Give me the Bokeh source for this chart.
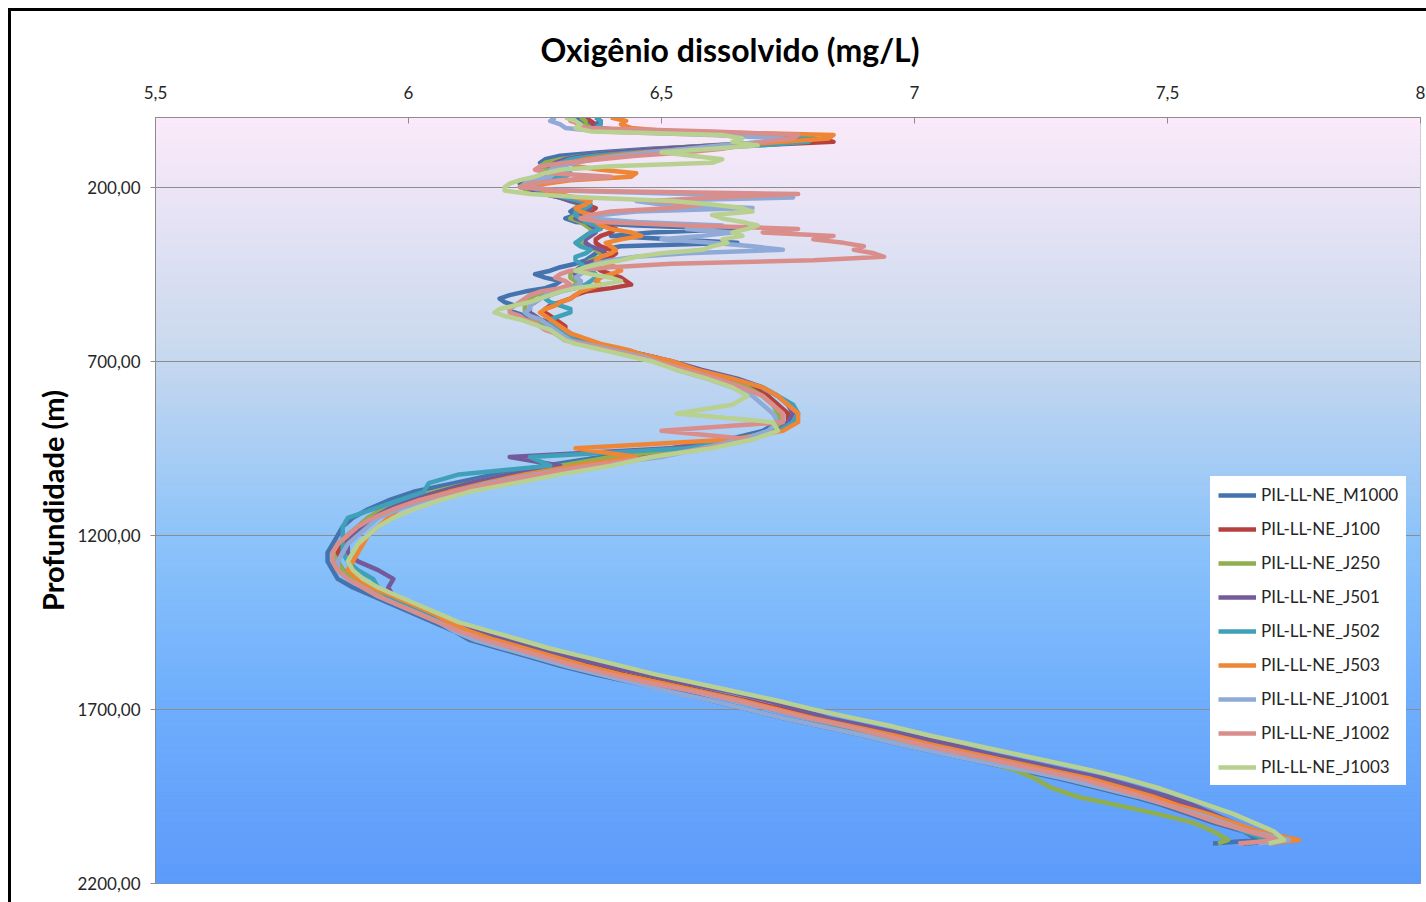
from bokeh.plotting import figure
from bokeh.models import Range1d, FixedTicker, Legend, LegendItem, InlineStyleSheet
from bokeh.embed import file_html
from bokeh.resources import INLINE

# Depth sampling grid (m): 10 m steps down to 700 m, 25 m below, last sample at 2085 m
depth = list(range(0, 701, 10)) + list(range(725, 2076, 25)) + [2085]

# Dissolved oxygen (mg/L) per station, one value per depth sample
m1000 = [
    6.33, 6.34, 6.36, 6.35, 6.45, 6.72, 6.79, 6.76, 6.62, 6.48,
    6.38, 6.30, 6.27, 6.26, 6.27, 6.28, 6.29, 6.27, 6.24, 6.22,
    6.23, 6.25, 6.27, 6.30, 6.33, 6.34, 6.33, 6.32, 6.33, 6.31,
    6.33, 6.45, 6.65, 6.48, 6.40, 6.52, 6.65, 6.42, 6.38, 6.37,
    6.36, 6.35, 6.33, 6.30, 6.28, 6.25, 6.27, 6.30, 6.29, 6.27,
    6.23, 6.20, 6.18, 6.19, 6.21, 6.20, 6.21, 6.23, 6.24, 6.26,
    6.27, 6.28, 6.29, 6.30, 6.31, 6.34, 6.38, 6.41, 6.44, 6.47,
    6.49,
    6.55, 6.61, 6.68, 6.71, 6.73, 6.74, 6.73, 6.70, 6.63, 6.52,
    6.38, 6.27, 6.17, 6.09, 6.01, 5.96, 5.92, 5.89, 5.87, 5.86,
    5.85, 5.84, 5.84, 5.85, 5.86, 5.89, 5.93, 5.97, 6.01, 6.05,
    6.09, 6.12, 6.18, 6.24, 6.30, 6.37, 6.45, 6.53, 6.60, 6.67,
    6.74, 6.82, 6.90, 6.97, 7.05, 7.13, 7.21, 7.29, 7.36, 7.43,
    7.49, 7.54, 7.59, 7.65, 7.68, 7.59,
]
j100 = [
    6.35, 6.36, 6.37, 6.36, 6.42, 6.70, 6.80, 6.84, 6.68, 6.55,
    6.44, 6.37, 6.32, 6.30, 6.29, 6.28, 6.31, 6.31, 6.27, 6.24,
    6.23, 6.25, 6.28, 6.31, 6.33, 6.35, 6.37, 6.36, 6.35, 6.34,
    6.36, 6.38, 6.41, 6.40, 6.38, 6.37, 6.37, 6.38, 6.40, 6.41,
    6.40, 6.38, 6.37, 6.37, 6.38, 6.40, 6.42, 6.43, 6.44, 6.40,
    6.35, 6.33, 6.32, 6.30, 6.28, 6.27, 6.27, 6.28, 6.29, 6.30,
    6.31, 6.31, 6.32, 6.33, 6.34, 6.37, 6.40, 6.43, 6.46, 6.49,
    6.51,
    6.57, 6.63, 6.68, 6.71, 6.73, 6.75, 6.75, 6.73, 6.67, 6.57,
    6.43, 6.31, 6.21, 6.13, 6.06, 6.00, 5.95, 5.92, 5.90, 5.88,
    5.87, 5.86, 5.86, 5.87, 5.90, 5.93, 5.96, 6.00, 6.04, 6.08,
    6.13, 6.18, 6.24, 6.30, 6.36, 6.43, 6.51, 6.59, 6.67, 6.74,
    6.81, 6.89, 6.97, 7.04, 7.12, 7.20, 7.28, 7.36, 7.42, 7.48,
    7.53, 7.58, 7.62, 7.66, 7.71, 7.65,
]
j250 = [
    6.34, 6.35, 6.35, 6.36, 6.43, 6.68, 6.76, 6.72, 6.60, 6.50,
    6.41, 6.35, 6.30, 6.27, 6.26, 6.27, 6.30, 6.29, 6.25, 6.23,
    6.22, 6.24, 6.27, 6.30, 6.32, 6.34, 6.36, 6.35, 6.33, 6.32,
    6.34, 6.35, 6.36, 6.36, 6.35, 6.34, 6.34, 6.35, 6.37, 6.38,
    6.38, 6.36, 6.35, 6.34, 6.33, 6.32, 6.32, 6.33, 6.33, 6.31,
    6.27, 6.25, 6.24, 6.23, 6.23, 6.23, 6.23, 6.24, 6.25, 6.27,
    6.28, 6.29, 6.30, 6.31, 6.32, 6.35, 6.38, 6.41, 6.44, 6.47,
    6.50,
    6.56, 6.62, 6.67, 6.70, 6.72, 6.73, 6.74, 6.72, 6.65, 6.55,
    6.40, 6.30, 6.20, 6.12, 6.05, 5.99, 5.95, 5.92, 5.90, 5.88,
    5.86, 5.85, 5.86, 5.87, 5.89, 5.93, 5.96, 6.00, 6.04, 6.08,
    6.12, 6.17, 6.23, 6.29, 6.35, 6.42, 6.50, 6.58, 6.65, 6.72,
    6.79, 6.86, 6.93, 6.99, 7.06, 7.14, 7.20, 7.24, 7.27, 7.32,
    7.40, 7.48, 7.55, 7.59, 7.62, 7.60,
]
j501 = [
    6.37, 6.38, 6.37, 6.37, 6.46, 6.74, 6.78, 6.73, 6.61, 6.50,
    6.41, 6.35, 6.31, 6.29, 6.28, 6.28, 6.31, 6.30, 6.26, 6.24,
    6.23, 6.25, 6.27, 6.30, 6.32, 6.35, 6.36, 6.35, 6.34, 6.33,
    6.35, 6.36, 6.37, 6.37, 6.36, 6.35, 6.35, 6.36, 6.38, 6.39,
    6.39, 6.37, 6.35, 6.34, 6.33, 6.33, 6.33, 6.34, 6.34, 6.32,
    6.29, 6.27, 6.26, 6.25, 6.24, 6.24, 6.24, 6.25, 6.26, 6.28,
    6.29, 6.30, 6.31, 6.32, 6.33, 6.37, 6.40, 6.43, 6.46, 6.49,
    6.52,
    6.58, 6.65, 6.70, 6.73, 6.75, 6.76, 6.75, 6.73, 6.66, 6.52,
    6.20, 6.30, 6.20, 6.12, 6.06, 6.00, 5.96, 5.93, 5.91, 5.89,
    5.88, 5.88, 5.90, 5.94, 5.97, 5.96, 5.97, 6.01, 6.05, 6.09,
    6.14, 6.20, 6.26, 6.32, 6.39, 6.47, 6.55, 6.64, 6.71, 6.77,
    6.83, 6.91, 6.99, 7.07, 7.14, 7.22, 7.30, 7.38, 7.44, 7.50,
    7.55, 7.59, 7.63, 7.67, 7.71, 7.66,
]
j502 = [
    6.37, 6.38, 6.38, 6.37, 6.44, 6.70, 6.80, 6.79, 6.70, 6.57,
    6.45, 6.37, 6.32, 6.30, 6.29, 6.30, 6.32, 6.31, 6.27, 6.24,
    6.24, 6.26, 6.28, 6.31, 6.34, 6.36, 6.35, 6.33, 6.33, 6.34,
    6.35, 6.37, 6.38, 6.36, 6.35, 6.34, 6.33, 6.34, 6.36, 6.35,
    6.33, 6.33, 6.34, 6.35, 6.36, 6.37, 6.37, 6.36, 6.35, 6.33,
    6.30, 6.28, 6.27, 6.28, 6.30, 6.32, 6.32, 6.30, 6.28, 6.28,
    6.29, 6.30, 6.31, 6.32, 6.33, 6.36, 6.39, 6.42, 6.45, 6.48,
    6.51,
    6.57, 6.64, 6.70, 6.73, 6.76, 6.77, 6.76, 6.73, 6.66, 6.55,
    6.24, 6.28, 6.10, 6.04, 6.03, 5.98, 5.93, 5.88, 5.87, 5.87,
    5.87, 5.87, 5.88, 5.90, 5.93, 5.94, 5.96, 5.99, 6.03, 6.07,
    6.11, 6.16, 6.22, 6.28, 6.34, 6.41, 6.49, 6.58, 6.66, 6.72,
    6.79, 6.86, 6.95, 7.02, 7.10, 7.18, 7.26, 7.34, 7.40, 7.46,
    7.51, 7.56, 7.61, 7.65, 7.70, 7.66,
]
j503 = [
    6.40, 6.43, 6.42, 6.44, 6.52, 6.84, 6.83, 6.74, 6.64, 6.56,
    6.47, 6.40, 6.35, 6.32, 6.33, 6.38, 6.45, 6.44, 6.32, 6.27,
    6.25, 6.27, 6.30, 6.33, 6.36, 6.35, 6.33, 6.34, 6.36, 6.38,
    6.37, 6.38, 6.40, 6.44, 6.46, 6.42, 6.39, 6.40, 6.41, 6.40,
    6.38, 6.37, 6.39, 6.41, 6.42, 6.40, 6.38, 6.37, 6.38, 6.36,
    6.34, 6.33, 6.32, 6.30, 6.29, 6.27, 6.26, 6.27, 6.28, 6.29,
    6.30, 6.31, 6.32, 6.34, 6.36, 6.38, 6.41, 6.44, 6.46, 6.49,
    6.52,
    6.57, 6.64, 6.70, 6.73, 6.75, 6.77, 6.77, 6.74, 6.64, 6.33,
    6.45, 6.33, 6.23, 6.15, 6.08, 6.02, 5.98, 5.96, 5.94, 5.92,
    5.91, 5.90, 5.89, 5.88, 5.90, 5.93, 5.97, 6.01, 6.05, 6.08,
    6.12, 6.17, 6.23, 6.29, 6.35, 6.42, 6.50, 6.58, 6.66, 6.73,
    6.80, 6.88, 6.96, 7.03, 7.11, 7.19, 7.27, 7.35, 7.41, 7.47,
    7.52, 7.58, 7.63, 7.68, 7.76, 7.70,
]
j1001 = [
    6.29, 6.28, 6.30, 6.31, 6.38, 6.60, 6.74, 6.70, 6.62, 6.55,
    6.48, 6.42, 6.37, 6.33, 6.30, 6.28, 6.29, 6.28, 6.25, 6.23,
    6.24, 6.30, 6.55, 6.76, 6.45, 6.50, 6.68, 6.45, 6.38, 6.36,
    6.45, 6.62, 6.55, 6.64, 6.58, 6.50, 6.60, 6.68, 6.74, 6.55,
    6.45, 6.40, 6.37, 6.35, 6.35, 6.34, 6.33, 6.34, 6.34, 6.32,
    6.29, 6.27, 6.26, 6.25, 6.24, 6.24, 6.23, 6.24, 6.26, 6.27,
    6.28, 6.29, 6.30, 6.31, 6.32, 6.35, 6.38, 6.41, 6.44, 6.47,
    6.49,
    6.53, 6.59, 6.64, 6.68, 6.70, 6.72, 6.73, 6.71, 6.66, 6.58,
    6.50, 6.36, 6.25, 6.16, 6.09, 6.03, 5.98, 5.94, 5.92, 5.90,
    5.88, 5.87, 5.86, 5.86, 5.88, 5.91, 5.94, 5.98, 6.02, 6.06,
    6.09, 6.13, 6.19, 6.25, 6.31, 6.38, 6.45, 6.52, 6.60, 6.67,
    6.74, 6.82, 6.90, 6.97, 7.05, 7.13, 7.22, 7.30, 7.37, 7.44,
    7.50, 7.56, 7.61, 7.66, 7.74, 7.68,
]
j1002 = [
    6.33, 6.32, 6.34, 6.35, 6.60, 6.77, 6.76, 6.70, 6.66, 6.62,
    6.55, 6.45, 6.38, 6.31, 6.26, 6.25, 6.28, 6.40, 6.30, 6.24,
    6.22, 6.30, 6.77, 6.60, 6.48, 6.58, 6.52, 6.40, 6.36, 6.34,
    6.38, 6.55, 6.77, 6.70, 6.84, 6.80, 6.86, 6.90, 6.88, 6.92,
    6.94, 6.80, 6.52, 6.40, 6.32, 6.30, 6.29, 6.31, 6.32, 6.30,
    6.26, 6.24, 6.23, 6.22, 6.21, 6.20, 6.20, 6.22, 6.23, 6.25,
    6.26, 6.27, 6.29, 6.30, 6.31, 6.34, 6.37, 6.40, 6.43, 6.46,
    6.49,
    6.55, 6.61, 6.66, 6.70, 6.72, 6.74, 6.74, 6.50, 6.68, 6.59,
    6.48, 6.36, 6.26, 6.17, 6.09, 6.02, 5.97, 5.93, 5.90, 5.88,
    5.86, 5.85, 5.85, 5.86, 5.88, 5.91, 5.94, 5.98, 6.02, 6.06,
    6.10, 6.15, 6.21, 6.27, 6.33, 6.40, 6.48, 6.57, 6.65, 6.72,
    6.79, 6.87, 6.94, 7.01, 7.09, 7.17, 7.25, 7.33, 7.39, 7.45,
    7.50, 7.55, 7.60, 7.66, 7.72, 7.64,
]
j1003 = [
    6.31, 6.33, 6.34, 6.33, 6.36, 6.62, 6.66, 6.64, 6.69, 6.60,
    6.50, 6.56, 6.62, 6.60, 6.40, 6.30, 6.27, 6.25, 6.22, 6.20,
    6.19, 6.19, 6.24, 6.35, 6.52, 6.60, 6.66, 6.68, 6.60, 6.62,
    6.66, 6.69, 6.67, 6.64, 6.66, 6.62, 6.63, 6.60, 6.58, 6.50,
    6.45, 6.42, 6.38, 6.35, 6.33, 6.36, 6.40, 6.42, 6.38, 6.33,
    6.30, 6.28, 6.26, 6.24, 6.21, 6.18, 6.17, 6.19, 6.22, 6.24,
    6.26, 6.28, 6.29, 6.30, 6.31, 6.33, 6.36, 6.39, 6.42, 6.45,
    6.48,
    6.53, 6.59, 6.64, 6.67, 6.64, 6.53, 6.72, 6.73, 6.68, 6.60,
    6.48, 6.40, 6.30, 6.21, 6.12, 6.06, 6.01, 5.97, 5.94, 5.92,
    5.90, 5.89, 5.88, 5.89, 5.91, 5.94, 5.98, 6.02, 6.06, 6.10,
    6.16, 6.22, 6.28, 6.35, 6.42, 6.49, 6.57, 6.65, 6.73, 6.80,
    6.88, 6.96, 7.03, 7.11, 7.19, 7.27, 7.35, 7.42, 7.48, 7.53,
    7.58, 7.63, 7.67, 7.71, 7.73, 7.70,
]

station_names = [
    "PIL-LL-NE_M1000", "PIL-LL-NE_J100", "PIL-LL-NE_J250",
    "PIL-LL-NE_J501", "PIL-LL-NE_J502", "PIL-LL-NE_J503",
    "PIL-LL-NE_J1001", "PIL-LL-NE_J1002", "PIL-LL-NE_J1003",
]
station_values = [m1000, j100, j250, j501, j502, j503, j1001, j1002, j1003]
station_colors = [
    "#4473AE", "#B5403D", "#8FAF4E", "#735A9B", "#3FA0B9",
    "#EE8636", "#8FAAD6", "#D98E8C", "#B8D090",
]

x_ticks = [5.5, 6, 6.5, 7, 7.5, 8]
x_tick_labels = ["5,5", "6", "6,5", "7", "7,5", "8"]
y_ticks = [200, 700, 1200, 1700, 2200]
y_tick_labels = ["200,00", "700,00", "1200,00", "1700,00", "2200,00"]

FONT = "Lato"
GRID = "#8c8c8c"

p = figure(
    width=1426, height=902, output_backend="svg", toolbar_location=None,
    x_range=Range1d(5.5, 8.0), y_range=Range1d(2200, 0),
    x_axis_location="above",
    min_border_left=155, min_border_right=6, min_border_top=117, min_border_bottom=19,
    background_fill_color="white", border_fill_color="white",
)
p.outline_line_color = GRID

# chart title, left-aligned over the frame
p.title.text = "Oxigênio dissolvido (mg/L)"
p.title.align = "left"
p.title.offset = 385
p.title.text_font = FONT
p.title.text_font_style = "bold"
p.title.text_font_size = "32px"
p.title.text_color = "black"
p.title.standoff = 27

# black chart-area border (top and left edges)
p.stylesheets = [InlineStyleSheet(css="""
:host::after {
  content: "";
  position: absolute;
  left: 8px;
  top: 8px;
  width: 1418px;
  height: 894px;
  border-left: 3px solid #000;
  border-top: 3px solid #000;
  box-sizing: border-box;
  pointer-events: none;
}
""")]

# vertical background gradient (pink at the surface to blue at depth)
stops = [
    (0.00, (251, 234, 250)),
    (0.30, (202, 217, 238)),
    (0.56, (138, 194, 250)),
    (0.75, (112, 175, 252)),
    (1.00, (92, 155, 250)),
]


def shade(f):
    for (f0, c0), (f1, c1) in zip(stops[:-1], stops[1:]):
        if f0 <= f <= f1:
            t = (f - f0) / (f1 - f0)
            return "#%02x%02x%02x" % tuple(round(a + (b - a) * t) for a, b in zip(c0, c1))
    return "#%02x%02x%02x" % stops[-1][1]


n_bands = 220
band_step = 2200 / n_bands
band_top = [i * band_step for i in range(n_bands)]
band_bottom = [(i + 1) * band_step for i in range(n_bands)]
band_color = [shade((i + 0.5) / n_bands) for i in range(n_bands)]
p.quad(left=5.5, right=8.0, top=band_top, bottom=band_bottom,
       fill_color=band_color, line_color=band_color, line_width=1, level="image")

# axes
p.xaxis.ticker = FixedTicker(ticks=x_ticks)
p.xaxis.major_label_overrides = dict(zip(x_ticks, x_tick_labels))
p.xaxis.major_tick_in = 6
p.xaxis.major_tick_out = 0
p.xaxis.major_label_standoff = 19

p.yaxis.ticker = FixedTicker(ticks=y_ticks)
p.yaxis.major_label_overrides = dict(zip(y_ticks, y_tick_labels))
p.yaxis.major_tick_in = 0
p.yaxis.major_tick_out = 5
p.yaxis.major_label_standoff = 10
p.yaxis.axis_label = "Profundidade (m)"
p.yaxis.axis_label_standoff = 4
p.yaxis.axis_label_text_font = FONT
p.yaxis.axis_label_text_font_style = "bold"
p.yaxis.axis_label_text_font_size = "29px"
p.yaxis.axis_label_text_color = "black"

for ax in (p.xaxis, p.yaxis):
    ax.axis_line_color = GRID
    ax.major_tick_line_color = GRID
    ax.minor_tick_line_color = None
    ax.major_label_text_font = FONT
    ax.major_label_text_font_size = "17px"
    ax.major_label_text_color = "#262626"

p.xgrid.visible = False
p.ygrid.ticker = FixedTicker(ticks=y_ticks)
p.ygrid.grid_line_color = GRID
p.ygrid.grid_line_width = 1

# profiles
items = []
for name, vals, color in zip(station_names, station_values, station_colors):
    r = p.line(vals, depth, line_color=color, line_width=4.5, line_join="round")
    items.append(LegendItem(label=name, renderers=[r]))

legend = Legend(
    items=items, location=(1055, 98),
    background_fill_color="white", background_fill_alpha=1.0,
    border_line_alpha=0.0,
    label_text_font=FONT, label_text_font_size="17px", label_text_color="#262626",
    glyph_width=38, glyph_height=20, label_height=20, label_standoff=5,
    spacing=13, padding=8, margin=0,
)
p.add_layout(legend)

open("out.html", "w").write(file_html(p, INLINE))
